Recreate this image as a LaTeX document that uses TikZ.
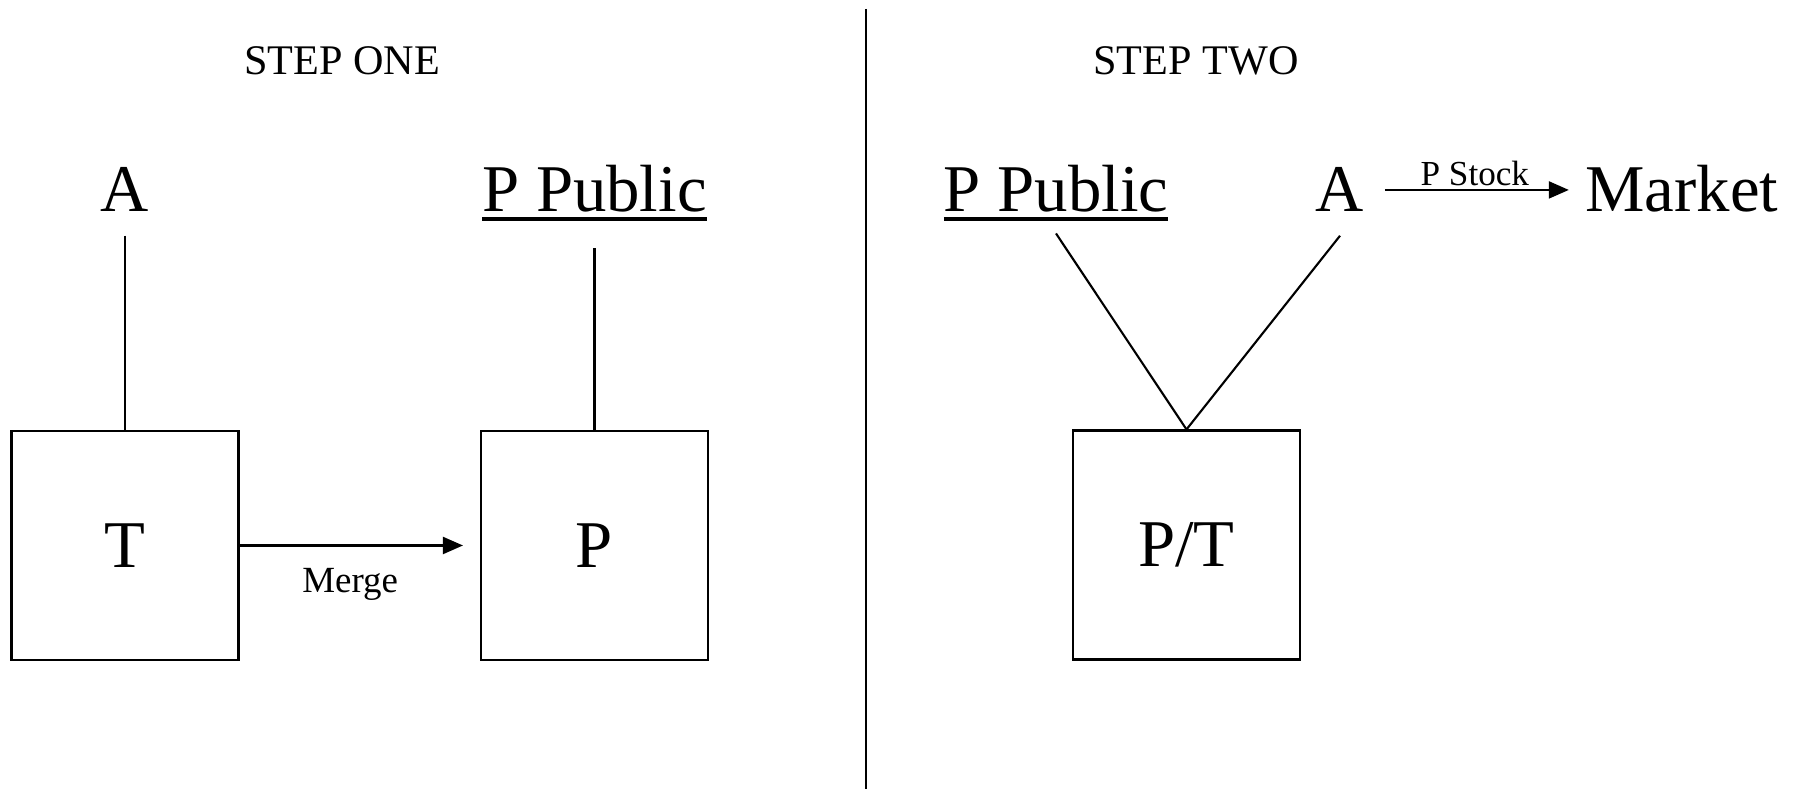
\documentclass[tikz,border=0pt]{standalone}
\usepackage{fontspec}
\setmainfont{Liberation Serif}
\newcommand\thickul[1]{\leavevmode\vtop{\hbox{#1}\kern1.2pt\hrule height 1.1pt}}
\usetikzlibrary{arrows.meta,positioning}

\begin{document}
\begin{tikzpicture}[line width=0.6pt,
  big/.style={font=\fontsize{19}{23}\selectfont,anchor=base},
  box/.style={draw,minimum width=2.27cm,minimum height=2.29cm,font=\fontsize{19}{23}\selectfont},
  title/.style={font=\fontsize{12}{14}\selectfont},
  >={Triangle[length=2mm,width=1.7mm]}]
  \useasboundingbox (0,0) rectangle (17.98,7.89);
  % separation
  \coordinate (sepTop) at (8.66,7.80);
  \coordinate (sepBot) at (8.66,0);
  \draw (sepTop) -- (sepBot);
  % step one
  \node[title] (s1) at (3.42,7.28) {STEP ONE};
  \node[big] (a1) at (1.25,5.77) {A};
  \node[big] (pp1) at (5.945,5.77) {\thickul{P Public}};
  \node[box] (t) at (1.25,2.435) {T};
  \node[box] (p) at (5.945,2.435) {P};
  \draw[shorten <=0.11cm] (a1.south) -- (t.north);
  \draw[shorten <=0.15cm] (pp1.south) -- (p.north);
  \draw[->,shorten >=0.17cm] (t) -- node[pos=0.46,below=0.1cm,font=\fontsize{10.5}{12}\selectfont]{Merge} (p);
  % step two
  \node[title] (s2) at (11.96,7.28) {STEP TWO};
  \node[big] (pp2) at (10.56,5.77) {\thickul{P Public}};
  \node[big] (a2) at (13.40,5.77) {A};
  \node[big] (mk) at (16.82,5.77) {Market};
  \node[box] (pt) at (11.865,2.44) {P/T};
  \coordinate[below=0.11cm of a2.south] (a2foot);
  \draw (pp2.south) -- (pt.north);
  \draw (a2foot) -- (pt.north);
  \draw[->,shorten <=0.08cm,shorten >=0.04cm] (a2.east) -- node[above,inner sep=1pt,font=\fontsize{10}{12}\selectfont]{P Stock} (a2.east -| mk.west);
\end{tikzpicture}
\end{document}
